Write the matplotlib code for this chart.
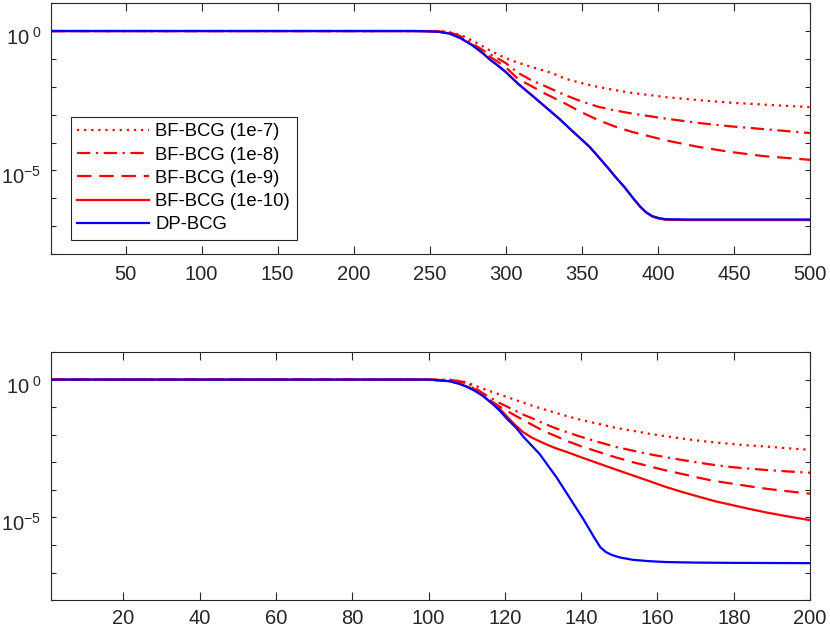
import numpy as np
import matplotlib
matplotlib.use('Agg')
import matplotlib.pyplot as plt
from matplotlib.transforms import ScaledTranslation

plt.rcParams['font.family'] = ['Liberation Sans', 'DejaVu Sans']
plt.rcParams['mathtext.fontset'] = 'custom'
plt.rcParams['mathtext.rm'] = 'Liberation Sans'
plt.rcParams['mathtext.it'] = 'Liberation Sans'

# ---- top panel (500 iterations), values as log10(residual) ----
top_dp_x = [1, 240, 255, 263, 270, 278, 285, 289, 295, 300, 308, 317, 326, 335, 342, 348,
            355, 361, 367, 372, 378, 383, 388, 392, 396, 400, 405, 420, 450, 500]
top_dp = [0, 0, -0.02, -0.09, -0.25, -0.51, -0.80, -1.0, -1.25, -1.47, -1.89, -2.30, -2.72,
          -3.14, -3.50, -3.80, -4.15, -4.52, -4.90, -5.23, -5.60, -5.95, -6.28, -6.49, -6.63,
          -6.70, -6.75, -6.76, -6.76, -6.76]
top_bf10 = [0, 0, -0.02, -0.09, -0.25, -0.51, -0.80, -1.0, -1.25, -1.47, -1.89, -2.30, -2.72,
            -3.14, -3.50, -3.80, -4.15, -4.52, -4.90, -5.23, -5.60, -5.95, -6.28, -6.50, -6.65,
            -6.72, -6.77, -6.78, -6.78, -6.78]

top_bf7_x = [1, 250, 262, 271, 280, 288, 297, 305, 317, 330, 339, 350, 361, 372, 383, 395,
             405, 427, 448, 470, 500]
top_bf7 = [0, 0, -0.03, -0.15, -0.40, -0.65, -0.90, -1.08, -1.29, -1.50, -1.71, -1.87, -2.01,
           -2.12, -2.22, -2.30, -2.37, -2.48, -2.57, -2.64, -2.73]

top_bf89_x = [1, 250, 262, 270, 278, 286, 293, 300, 308, 317, 326, 339, 350, 361, 372, 383,
              405, 427, 448, 470, 500]
top_bf8 = [0, 0, -0.03, -0.18, -0.45, -0.72, -0.93, -1.15, -1.50, -1.77, -1.98, -2.30, -2.53,
           -2.72, -2.85, -2.96, -3.14, -3.30, -3.42, -3.52, -3.66]
top_bf9 = [0, 0, -0.03, -0.20, -0.50, -0.80, -1.04, -1.30, -1.72, -1.98, -2.25, -2.60, -2.92,
           -3.20, -3.43, -3.62, -3.92, -4.16, -4.34, -4.49, -4.62]

# ---- bottom panel (200 iterations) ----
bot_dp_x = [1, 100, 105.5, 108, 110, 112, 114.3, 116.5, 118.6, 120.4, 123, 125, 127.4, 129.1,
            131.7, 133.5, 136.1, 138.5, 140.5, 142, 143.5, 145, 146.5, 148, 150, 153.6, 158,
            162.3, 170, 180, 200]
bot_dp = [0, 0, -0.06, -0.15, -0.26, -0.40, -0.60, -0.85, -1.12, -1.40, -1.76, -2.10, -2.45,
          -2.70, -3.20, -3.54, -4.10, -4.62, -5.05, -5.40, -5.75, -6.08, -6.26, -6.36, -6.45,
          -6.54, -6.59, -6.62, -6.64, -6.65, -6.66]

bot_bf10_x = [1, 100, 105.5, 108, 110, 112, 114.3, 116, 118.6, 120.4, 122.5, 124.7, 127, 129.1,
              131.7, 133.5, 136.1, 140, 144.9, 149, 153.6, 158, 162.3, 167, 171.1, 175, 179.8,
              184, 188.5, 194, 200]
bot_bf10 = [0, 0, -0.06, -0.15, -0.25, -0.38, -0.58, -0.80, -1.05, -1.32, -1.62, -1.90, -2.10,
            -2.24, -2.40, -2.50, -2.62, -2.82, -3.06, -3.26, -3.48, -3.69, -3.90, -4.10, -4.26,
            -4.41, -4.56, -4.69, -4.82, -4.96, -5.10]

bot_bf89_x = [1, 100, 106, 109, 111, 114.3, 118.6, 122, 125, 127.4, 130, 133, 136.1, 140, 144.9,
              149, 153.6, 158, 162.3, 167, 171.1, 175, 179.8, 184, 188.5, 194, 200]
bot_bf8 = [0, 0, -0.02, -0.08, -0.20, -0.50, -0.85, -1.08, -1.28, -1.42, -1.58, -1.75, -1.90,
           -2.08, -2.28, -2.44, -2.58, -2.71, -2.82, -2.93, -3.02, -3.10, -3.18, -3.23, -3.28,
           -3.33, -3.38]
bot_bf9 = [0, 0, -0.03, -0.10, -0.24, -0.58, -0.98, -1.25, -1.48, -1.66, -1.86, -2.03, -2.22,
           -2.42, -2.64, -2.82, -3.00, -3.15, -3.30, -3.44, -3.57, -3.68, -3.78, -3.87, -3.96,
           -4.05, -4.14]

bot_bf7_x = [1, 100, 106, 110, 114, 118.6, 123, 127.4, 131.7, 136.1, 140.5, 144.9, 149, 153.6,
             158, 162.3, 167, 171.1, 175, 179.8, 184, 188.5, 194, 200]
bot_bf7 = [0, 0, -0.01, -0.10, -0.32, -0.54, -0.75, -0.96, -1.14, -1.32, -1.48, -1.62, -1.75,
           -1.86, -1.97, -2.06, -2.15, -2.22, -2.28, -2.34, -2.39, -2.43, -2.49, -2.55]

labels = ['BF-BCG (1e-7)', 'BF-BCG (1e-8)', 'BF-BCG (1e-9)', 'BF-BCG (1e-10)', 'DP-BCG']
styles = [(0, (1, 2.2)), (0, (6, 2.5, 1, 2.5)), (0, (6.5, 3.5)), '-', '-']
colors = ['#ff0000', '#ff0000', '#ff0000', '#ff0000', '#0000ff']

top_series = [(top_bf7_x, top_bf7), (top_bf89_x, top_bf8), (top_bf89_x, top_bf9),
              (top_dp_x, top_bf10), (top_dp_x, top_dp)]
bot_series = [(bot_bf7_x, bot_bf7), (bot_bf89_x, bot_bf8), (bot_bf89_x, bot_bf9),
              (bot_bf10_x, bot_bf10), (bot_dp_x, bot_dp)]

fig = plt.figure(figsize=(8.3, 6.32), dpi=100)
ax1 = fig.add_axes([0.0614, 0.598, 0.9146, 0.397])
ax2 = fig.add_axes([0.0614, 0.0505, 0.9146, 0.3925])

edge = '#262626'
shift = ScaledTranslation(0, -3.5 / 72, fig.dpi_scale_trans)
for ax, series, xmax, xt, xpad in [(ax1, top_series, 500, np.arange(50, 501, 50), 8),
                                   (ax2, bot_series, 200, np.arange(20, 201, 20), 6.2)]:
    for (xs, ys), lab, ls, c in zip(series, labels, styles, colors):
        ax.semilogy(xs, 10.0 ** np.array(ys), linestyle=ls, color=c, lw=1.6, label=lab)
    ax.set_xlim(1, xmax)
    ax.set_ylim(1e-8, 1e1)
    ax.set_xticks(xt)
    ax.set_yticks([10.0 ** k for k in range(-8, 2)])
    ax.set_yticklabels(['$10^{-5}$' if k == -5 else ('$10^{\\ 0}$' if k == 0 else '')
                        for k in range(-8, 2)])
    ax.minorticks_off()
    ax.tick_params(axis='x', direction='in', top=True, length=6, width=0.8,
                   labelsize=14.5, colors=edge, pad=xpad)
    ax.tick_params(axis='y', direction='in', right=True, length=3.6, width=0.8,
                   labelsize=14.5, colors=edge, pad=7)
    for s in ax.spines.values():
        s.set_color(edge)
        s.set_linewidth(0.8)
    for t in ax.get_yticklabels():
        t.set_transform(t.get_transform() + shift)

leg = ax1.legend(loc='lower left', bbox_to_anchor=(0.026, 0.056), fontsize=13.3,
                 handlelength=3.9, handletextpad=0.33, labelspacing=0.34,
                 borderpad=0.36, fancybox=False, framealpha=1, borderaxespad=0)
leg.get_frame().set_edgecolor('#262626')
leg.get_frame().set_linewidth(0.8)

fig.savefig('out.png', dpi=100)
